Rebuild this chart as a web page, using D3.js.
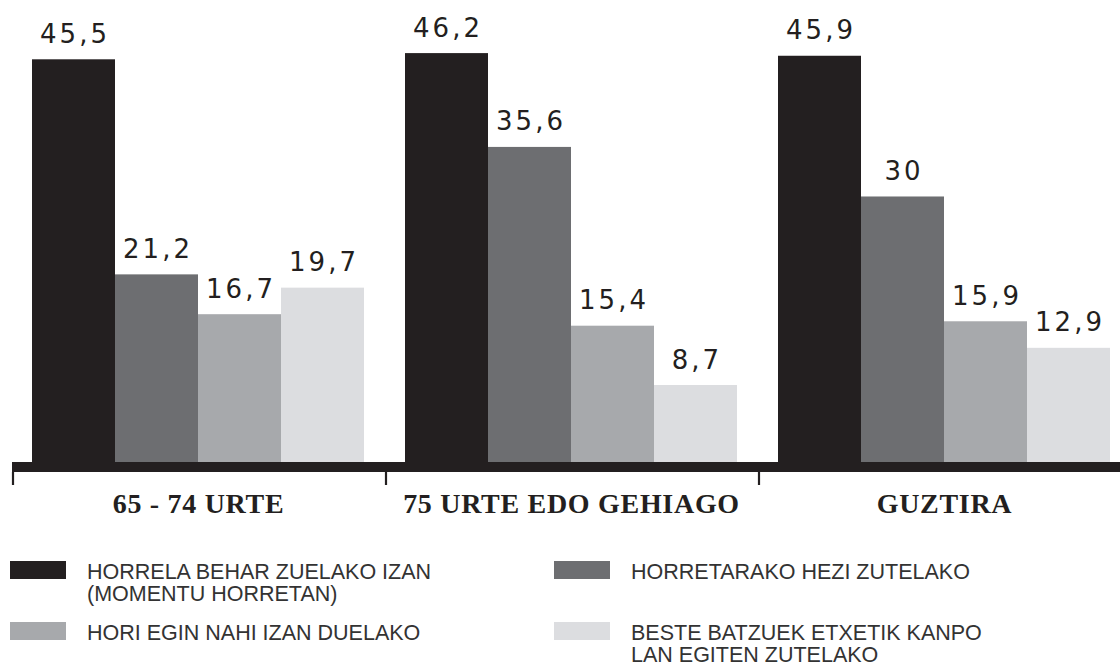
<!DOCTYPE html>
<html>
<head>
<meta charset="utf-8">
<script src="https://cdn.jsdelivr.net/npm/d3@7"></script>
<style>
  html, body { margin: 0; padding: 0; background: #fff; }
  #chart { width: 1120px; height: 667px; }
</style>
</head>
<body>
<div id="chart"></div>
<script>
// datuak
const groups = ["65 - 74 URTE", "75 URTE EDO GEHIAGO", "GUZTIRA"];
const series = [
  "HORRELA BEHAR ZUELAKO IZAN (MOMENTU HORRETAN)",
  "HORRETARAKO HEZI ZUTELAKO",
  "HORI EGIN NAHI IZAN DUELAKO",
  "BESTE BATZUEK ETXETIK KANPO LAN EGITEN ZUTELAKO"
];
const legendLines = [
  ["HORRELA BEHAR ZUELAKO IZAN", "(MOMENTU HORRETAN)"],
  ["HORRETARAKO HEZI ZUTELAKO"],
  ["HORI EGIN NAHI IZAN DUELAKO"],
  ["BESTE BATZUEK ETXETIK KANPO", "LAN EGITEN ZUTELAKO"]
];
const values = [
  [45.5, 21.2, 16.7, 19.7],
  [46.2, 35.6, 15.4, 8.7],
  [45.9, 30, 15.9, 12.9]
];
const colors = ["#231f20", "#6d6e71", "#a7a9ac", "#dcdde0"];

const W = 1120, H = 667;
const baseY = 462;
const ink = "#231f20";

const svg = d3.select("#chart").append("svg")
  .attr("width", W)
  .attr("height", H);

// eskalak
const x0 = d3.scaleBand().domain(groups).range([12, 12 + 373 * 3]).padding(0);
const x1 = d3.scaleBand().domain(d3.range(series.length)).range([20, 352]).padding(0);
const y = d3.scaleLinear().domain([0, 52.2]).range([baseY, 0]);
const color = d3.scaleOrdinal().domain(d3.range(series.length)).range(colors);
const fmt = v => String(v).replace(".", ",");

// barrak
const g = svg.selectAll(".group")
  .data(groups)
  .enter()
  .append("g")
  .attr("class", "group")
  .attr("transform", d => `translate(${x0(d)},0)`);

const cells = g.selectAll(".cell")
  .data((d, i) => values[i].map((v, j) => ({ v, j })))
  .enter();

cells.append("rect")
  .attr("x", d => x1(d.j))
  .attr("y", d => y(d.v))
  .attr("width", x1.bandwidth())
  .attr("height", d => baseY - y(d.v))
  .attr("fill", d => color(d.j));

// balioen etiketak
const spacing = 3;
cells.append("text")
  .attr("x", d => x1(d.j) + x1.bandwidth() / 2 + spacing / 2)
  .attr("y", d => y(d.v) - 16.5)
  .attr("text-anchor", "middle")
  .style("font-family", "'DejaVu Sans', sans-serif")
  .style("font-size", "26px")
  .style("letter-spacing", spacing + "px")
  .style("fill", ink)
  .text(d => fmt(d.v));

// ardatza
svg.append("rect")
  .attr("x", x0(groups[0]))
  .attr("y", baseY)
  .attr("width", W - x0(groups[0]))
  .attr("height", 10)
  .attr("fill", ink);

svg.selectAll(".tick-mark")
  .data(groups)
  .enter()
  .append("line")
  .attr("class", "tick-mark")
  .attr("x1", d => x0(d) + 1)
  .attr("x2", d => x0(d) + 1)
  .attr("y1", baseY + 10)
  .attr("y2", baseY + 23)
  .attr("stroke", ink)
  .attr("stroke-width", 2.2);

svg.selectAll(".cat-label")
  .data(groups)
  .enter()
  .append("text")
  .attr("class", "cat-label")
  .attr("x", d => x0(d) + x0.bandwidth() / 2)
  .attr("y", 513)
  .attr("text-anchor", "middle")
  .style("font-family", "'Liberation Serif', 'Times New Roman', serif")
  .style("font-weight", "bold")
  .style("font-size", "28px")
  .style("letter-spacing", "0.7px")
  .style("fill", ink)
  .text(d => d);

// legenda
const legendPos = [
  { x: 10, y: 561 },
  { x: 554, y: 561 },
  { x: 10, y: 622 },
  { x: 554, y: 622 }
];

const legend = svg.selectAll(".legend-item")
  .data(series)
  .enter()
  .append("g")
  .attr("class", "legend-item")
  .attr("transform", (d, i) => `translate(${legendPos[i].x},${legendPos[i].y})`);

legend.append("rect")
  .attr("width", 56)
  .attr("height", 18)
  .attr("fill", (d, i) => color(i));

legend.append("text")
  .attr("x", 77)
  .attr("y", 18)
  .style("font-family", "'Liberation Sans', Arial, sans-serif")
  .style("font-size", "21.5px")
  .style("fill", "#333")
  .selectAll("tspan")
  .data((d, i) => legendLines[i])
  .enter()
  .append("tspan")
  .attr("x", 77)
  .attr("dy", (d, k) => k === 0 ? 0 : 22)
  .text(d => d);
</script>
</body>
</html>
